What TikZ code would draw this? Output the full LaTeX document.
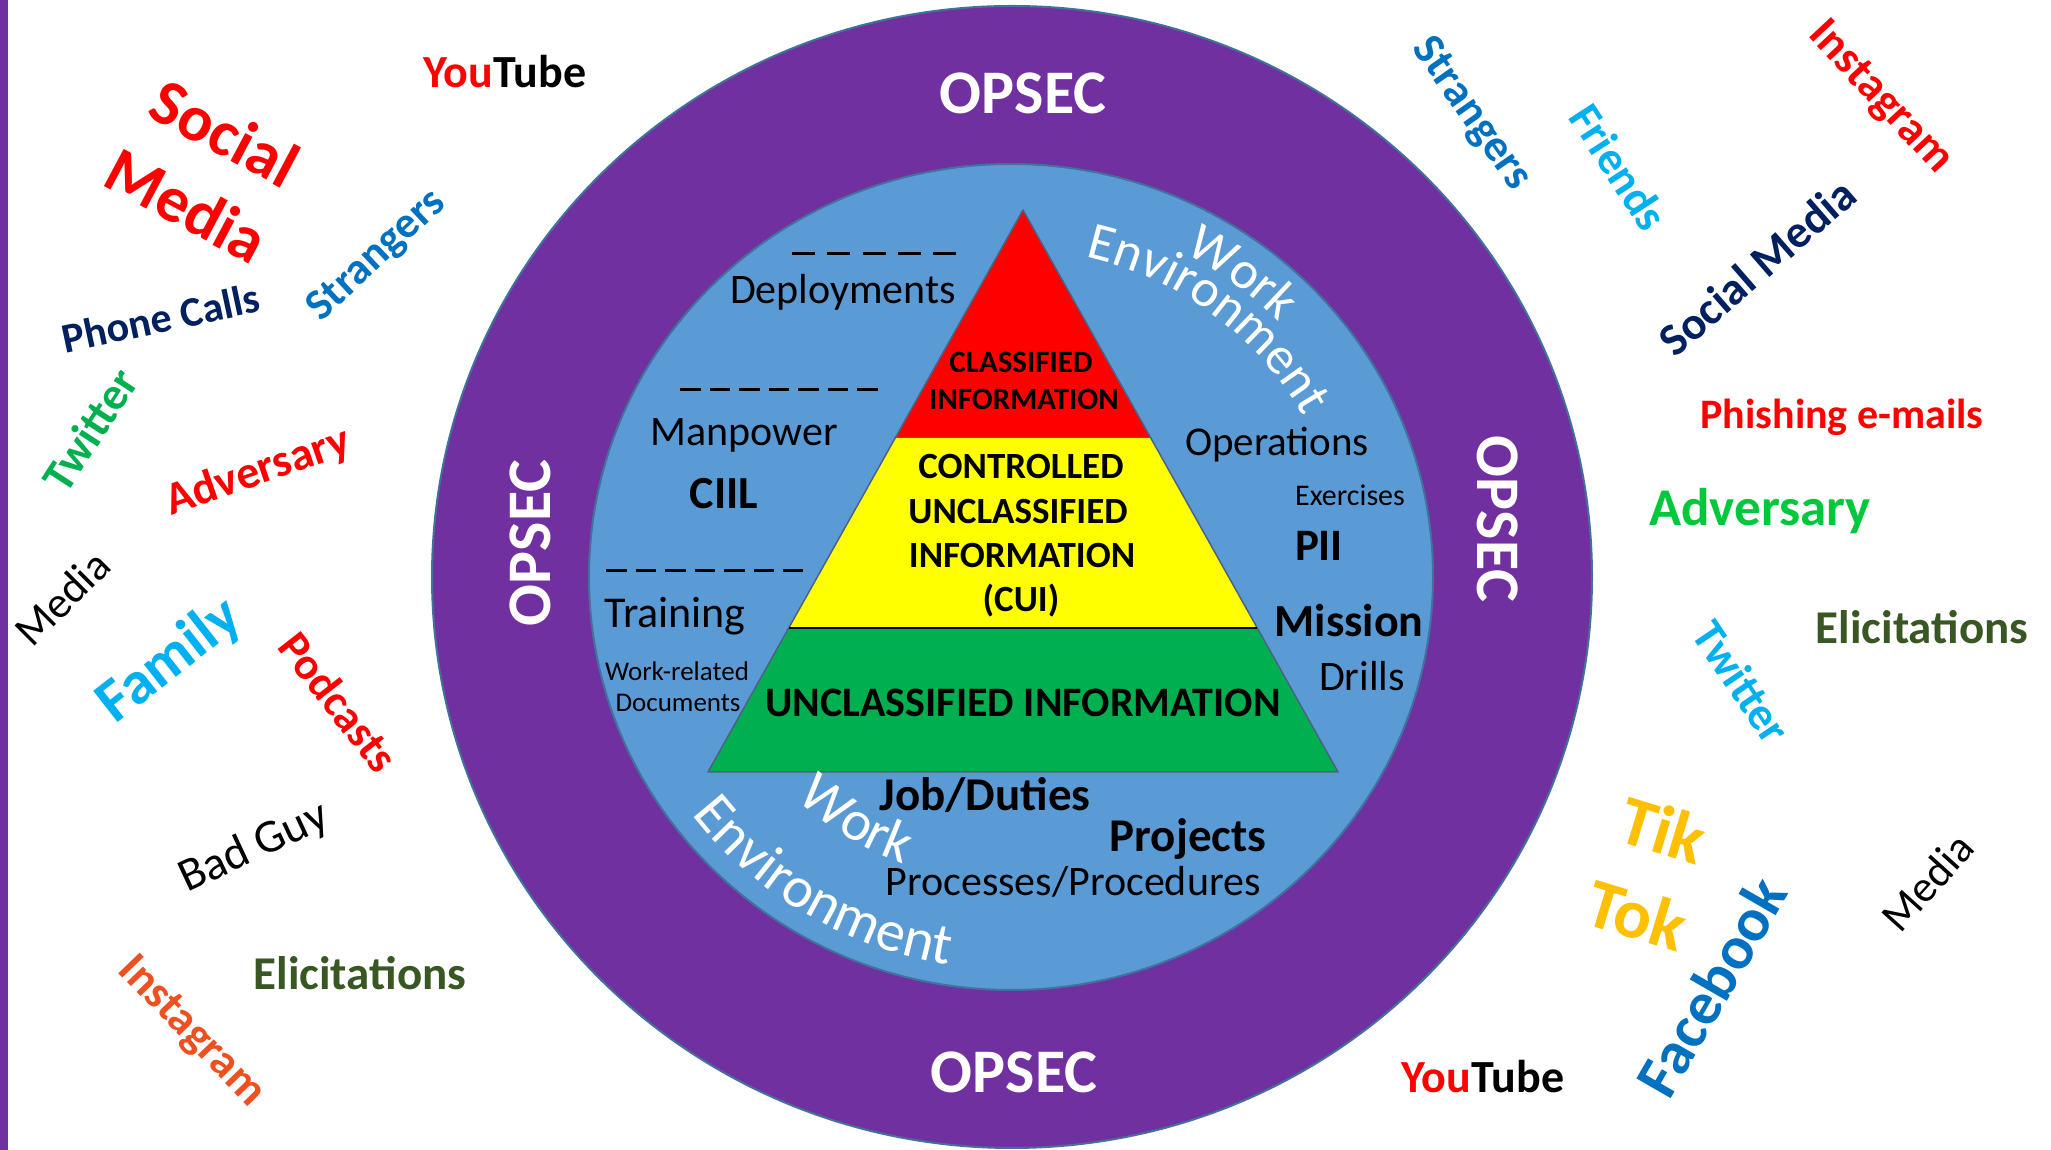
\documentclass[tikz,border=0pt]{standalone}
\usepackage{fontspec}
\setmainfont{Carlito}
\usetikzlibrary{decorations.text}
\definecolor{opurple}{HTML}{7030A0}
\definecolor{oblue}{HTML}{5B9BD5}
\definecolor{oedge}{HTML}{41719C}
\definecolor{tred}{HTML}{FF0000}
\definecolor{tyellow}{HTML}{FFFF00}
\definecolor{tgreen}{HTML}{00B050}
\definecolor{navy}{HTML}{002060}
\definecolor{mblue}{HTML}{0070C0}
\definecolor{lblue}{HTML}{00B0F0}
\definecolor{gold}{HTML}{FFC000}
\definecolor{dgreen}{HTML}{385723}
\definecolor{bgreen}{HTML}{00C83C}
\definecolor{orng}{HTML}{EE5020}
\definecolor{triedge}{HTML}{4A6285}
\newcommand{\fsz}[1]{\fontsize{#1}{#1}\selectfont}
\begin{document}
\begin{tikzpicture}[x=1pt,y=1pt,
  word/.style={inner sep=0pt, outer sep=0pt},
  inner/.style={word, anchor=base, text=black},
  opsec/.style={word, anchor=base, text=white, font=\fsz{62}\bfseries},
  dashfive/.style={line width=3pt, dash pattern=on 23pt off 12.25pt},
  dashseven/.style={line width=3pt, dash pattern=on 20.5pt off 9pt},
  band/.style={draw=triedge, line width=1.5pt, line join=round}]
\useasboundingbox (0,0) rectangle (2051,1150);
\fill[white] (0,0) rectangle (2051,1150);
\fill[opurple] (0,0) rectangle (8,1150);
% rings
\fill[opurple, draw=oedge, line width=2pt] (1012,573) ellipse [x radius=580, y radius=571];
\fill[oblue, draw=oedge, line width=2pt] (1011,573) ellipse [x radius=422, y radius=413];
% pyramid
\fill[tred] (1023,940) -- (1151,712) -- (895,712) -- cycle;
\fill[tyellow] (895,712) -- (1151,712) -- (1257,522) -- (789,522) -- cycle;
\fill[tgreen] (789,522) -- (1257,522) -- (1338,378) -- (708,378) -- cycle;
\draw[band] (1023,940) -- (1338,378) -- (708,378) -- cycle;
\draw[black, line width=2.5pt] (789,522) -- (1257,522);
% pyramid labels
\node[inner, font=\fsz{31}\bfseries] (cls1) at (1021,777) {CLASSIFIED};
\node[inner, font=\fsz{31}\bfseries] (cls2) at (1024,740) {INFORMATION};
\node[inner, font=\fsz{37}\bfseries] (cui1) at (1021,671) {CONTROLLED};
\node[inner, font=\fsz{37}\bfseries] (cui2) at (1018,626) {UNCLASSIFIED};
\node[inner, font=\fsz{37}\bfseries] (cui3) at (1022,582) {INFORMATION};
\node[inner, font=\fsz{37}\bfseries] (cui4) at (1021,538) {(CUI)};
\node[inner, font=\fsz{42}\bfseries] (uncl) at (1023,433) {UNCLASSIFIED INFORMATION};
% inner labels
\draw[dashfive] (792,896) -- (956,896);
\draw[dashseven] (680,760) -- (878,760);
\draw[dashseven] (606,579) -- (803,579);
\node[inner, font=\fsz{42}] (deploy) at (843,846) {Deployments};
\node[inner, font=\fsz{42}] (manpow) at (744,704) {Manpower};
\node[inner, font=\fsz{46}\bfseries] (ciil) at (724,641) {CIIL};
\node[inner, font=\fsz{44}] (train) at (675,522) {Training};
\node[inner, font=\fsz{27}] (wrel1) at (677,469) {Work-related};
\node[inner, font=\fsz{27}] (wrel2) at (678,438) {Documents};
\node[inner, font=\fsz{41}] (ops) at (1277,694) {Operations};
\node[inner, font=\fsz{30}] (exer) at (1350,644) {Exercises};
\node[inner, font=\fsz{45}\bfseries] (pii) at (1319,589) {PII};
\node[inner, font=\fsz{46}\bfseries] (miss) at (1349,513) {Mission};
\node[inner, font=\fsz{42}] (drill) at (1362,459) {Drills};
\node[inner, font=\fsz{47}\bfseries] (jobs) at (985,339) {Job/Duties};
\node[inner, font=\fsz{47}\bfseries] (proj) at (1188,298) {Projects};
\node[inner, font=\fsz{42}] (proc) at (1073,254) {Processes/Procedures};
% curved white text
\path[decorate, decoration={text along path, text align=center, text={|\fsz{53}\color{white}|Work}}]
  (1011,573) ++(93:373.5 and 365.5) arc[start angle=93, end angle=13, x radius=373.5, y radius=365.5];
\path[decorate, decoration={text along path, text align=center, text={|\fsz{53}\color{white}|Environment}}]
  (1011,573) ++(93:335.5 and 328.3) arc[start angle=93, end angle=13, x radius=335.5, y radius=328.3];
\path[decorate, decoration={text along path, text align=center, text={|\fsz{57}\color{white}|Work}}]
  (1011,573) ++(193:312.3 and 305.6) arc[start angle=193, end angle=283, x radius=312.3, y radius=305.6];
\path[decorate, decoration={text along path, text align=center, text={|\fsz{58}\color{white}|Environment}}]
  (1011,573) ++(194:400.9 and 392.4) arc[start angle=194, end angle=284, x radius=400.9, y radius=392.4];
% OPSEC
\node[opsec] (optop) at (1023,1036) {OPSEC};
\node[opsec] (opbot) at (1014,57) {OPSEC};
\node[opsec, rotate=90] (opleft) at (550,607) {OPSEC};
\node[opsec, rotate=-90] (opright) at (1477,631) {OPSEC};
% outside words, left
\node[word, anchor=base, font=\fsz{46}\bfseries, text=black] (yt1) at (505,1062) {\textcolor{tred}{You}Tube};
\node[word, rotate=-28, text=tred, align=center, font=\fontsize{65}{82}\selectfont\bfseries] (socmed1) at (206,981) {Social\\Media};
\node[word, rotate=12, text=navy, font=\fsz{42}\bfseries] (phone) at (161,832) {Phone Calls};
\node[word, rotate=43, text=mblue, font=\fsz{44}\bfseries] (strang1) at (377,894) {Strangers};
\node[word, rotate=57, text=tgreen, font=\fsz{46}\bfseries] (twit1) at (90,720) {Twitter};
\node[word, rotate=19, text=tred, font=\fsz{46}\bfseries] (adv1) at (258,678) {Adversary};
\node[word, rotate=45, text=black, font=\fsz{44}] (media1) at (62,552) {Media};
\node[word, rotate=38, text=lblue, font=\fsz{61}\bfseries] (family) at (170,489) {Family};
\node[word, rotate=-52, text=tred, font=\fsz{45}\bfseries] (podc) at (339,448) {Podcasts};
\node[word, rotate=25, text=black, font=\fsz{47}] (badguy) at (254,302) {Bad Guy};
\node[word, anchor=base, text=dgreen, font=\fsz{47}\bfseries] (elic1) at (360,160) {Elicitations};
\node[word, rotate=-46, text=orng, font=\fsz{46}\bfseries] (insta1) at (191,118) {Instagram};
% outside words, right
\node[word, rotate=-55, text=mblue, font=\fsz{45}\bfseries] (strang2) at (1471,1036) {Strangers};
\node[word, rotate=-57, text=lblue, font=\fsz{46}\bfseries] (friends) at (1619,983) {Friends};
\node[word, rotate=-47, text=tred, font=\fsz{46}\bfseries] (insta2) at (1880,1052) {Instagram};
\node[word, rotate=41, text=navy, font=\fsz{46}\bfseries] (socmed2) at (1757,883) {Social Media};
\node[word, anchor=base, text=tred, font=\fsz{42}\bfseries] (phish) at (1842,721) {Phishing e-mails};
\node[word, anchor=base, text=bgreen, font=\fsz{53}\bfseries] (adv2) at (1760,624) {Adversary};
\node[word, anchor=base, text=dgreen, font=\fsz{47}\bfseries] (elic2) at (1922,506) {Elicitations};
\node[word, rotate=-56, text=lblue, font=\fsz{46}\bfseries] (twit2) at (1742,468) {Twitter};
\node[word, rotate=-17, text=gold, align=center, font=\fontsize{70}{89}\selectfont\bfseries] (tiktok) at (1650,278) {Tik\\Tok};
\node[word, rotate=60, text=mblue, font=\fsz{61}\bfseries] (fb) at (1711,163) {Facebook};
\node[word, rotate=48, text=black, font=\fsz{44}] (media2) at (1927,268) {Media};
\node[word, anchor=base, font=\fsz{46}\bfseries, text=black] (yt2) at (1483,57) {\textcolor{tred}{You}Tube};
\end{tikzpicture}
\end{document}
